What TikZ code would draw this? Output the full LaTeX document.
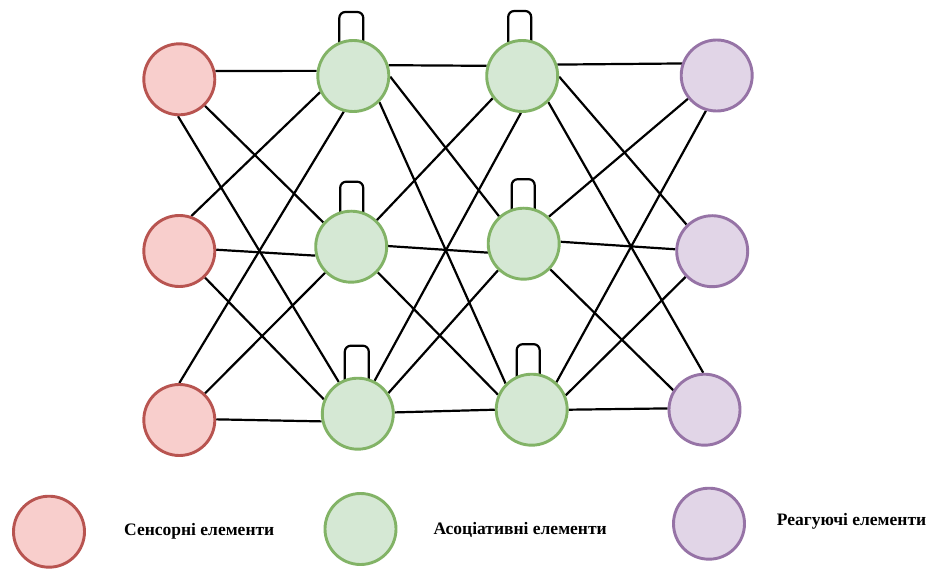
\documentclass[tikz,border=0pt]{standalone}
\usepackage{fontspec}
\setmainfont{Liberation Serif}
\usetikzlibrary{calc}
\pgfdeclarelayer{bgfill}
\pgfdeclarelayer{background}
\pgfsetlayers{bgfill,background,main}
\definecolor{redfill}{HTML}{F8CECC}
\definecolor{redline}{HTML}{B85450}
\definecolor{greenfill}{HTML}{D5E8D4}
\definecolor{greenline}{HTML}{82B366}
\definecolor{purplefill}{HTML}{E1D5E7}
\definecolor{purpleline}{HTML}{9673A6}
\tikzset{
  neuron/.style={circle, minimum size=71pt, inner sep=0pt, line width=2.9pt},
  sensor/.style={neuron, draw=redline, fill=redfill},
  assoc/.style={neuron, draw=greenline, fill=greenfill},
  react/.style={neuron, draw=purpleline, fill=purplefill},
  conn/.style={draw=black, line width=2.2pt},
  selfloop/.style={draw=black, line width=2.2pt, rounded corners=6pt},
  legendtext/.style={font=\bfseries\fontsize{17.5}{20}\selectfont, inner sep=0pt}
}
\begin{document}
\begin{tikzpicture}[x=1pt,y=1pt]
\begin{pgfonlayer}{bgfill}
\fill[white] (0,0) rectangle (936,-569);
\end{pgfonlayer}
\useasboundingbox (0,0) rectangle (936,-569);
% nodes
\node[sensor] (r1) at (179.3,-79.3) {};
\node[sensor] (r2) at (179.3,-251) {};
\node[sensor] (r3) at (179.3,-420) {};
\node[assoc] (g11) at (353.3,-76) {};
\node[assoc] (g21) at (351.2,-246.7) {};
\node[assoc] (g31) at (357.8,-413.7) {};
\node[assoc] (g12) at (522.2,-76) {};
\node[assoc] (g22) at (523.7,-243.7) {};
\node[assoc] (g32) at (531.7,-409.7) {};
\node[react] (p1) at (716.7,-75.5) {};
\node[react] (p2) at (712.2,-251.2) {};
\node[react] (p3) at (704.5,-409.7) {};
% legend
\node[sensor] (lr) at (49,-531.7) {};
\node[assoc] (lg) at (360.5,-529) {};
\node[react] (lp) at (709,-523.7) {};
\node[legendtext, anchor=west] (tr) at (124,-531.7) {Сенсорні елементи};
\node[legendtext, anchor=west] (tg) at (433.3,-530) {Асоціативні елементи};
\node[legendtext, anchor=west] (tp) at (776.7,-521.7) {Реагуючі елементи};
\begin{pgfonlayer}{background}
\foreach \a/\b in {r1.13/g11.172, r1.-46/g21.139, r1.-92/g31.121,
                   r2.71/g11.206, r2.2/g21.194, r2.-46/g31.157,
                   r3.90/g11.255, r3.46/g21.225, r3.1/g31.192,
                   g11.17/g12.164, g11.-1/g22.132, g11.-45/g32.135,
                   g21.46/g12.217, g21.1/g22.194, g21.-44/g32.156,
                   g31.63/g12.268, g31.34/g22.226, g31.2/g32.180,
                   g12.18/p1.161, g12.-1/p2.134, g12.-45/p3.92,
                   g22.47/p1.219, g22.3/p2.177, g22.-44/p3.148,
                   g32.48/p1.253, g32.23/p2.224, g32.0/p3.178}
  \draw[conn] (\a) -- (\b);
% self loops
\draw[selfloop] ($(g11)+(-14,-20)$) -- ++(0,84) -- ++(24,0) -- ($(g11)+(10,-20)$);
\draw[selfloop] ($(g12)+(-14,-20)$) -- ++(0,85) -- ++(23,0) -- ($(g12)+(9,-20)$);
\draw[selfloop] ($(g21)+(-11,-20)$) -- ++(0,85) -- ++(23,0) -- ($(g21)+(12,-20)$);
\draw[selfloop] ($(g22)+(-12,-20)$) -- ++(0,84.5) -- ++(23,0) -- ($(g22)+(11,-20)$);
\draw[selfloop] ($(g31)+(-13,-20)$) -- ++(0,88) -- ++(24,0) -- ($(g31)+(11,-20)$);
\draw[selfloop] ($(g32)+(-15,-20)$) -- ++(0,85.5) -- ++(23,0) -- ($(g32)+(8,-20)$);
\end{pgfonlayer}
\end{tikzpicture}
\end{document}
